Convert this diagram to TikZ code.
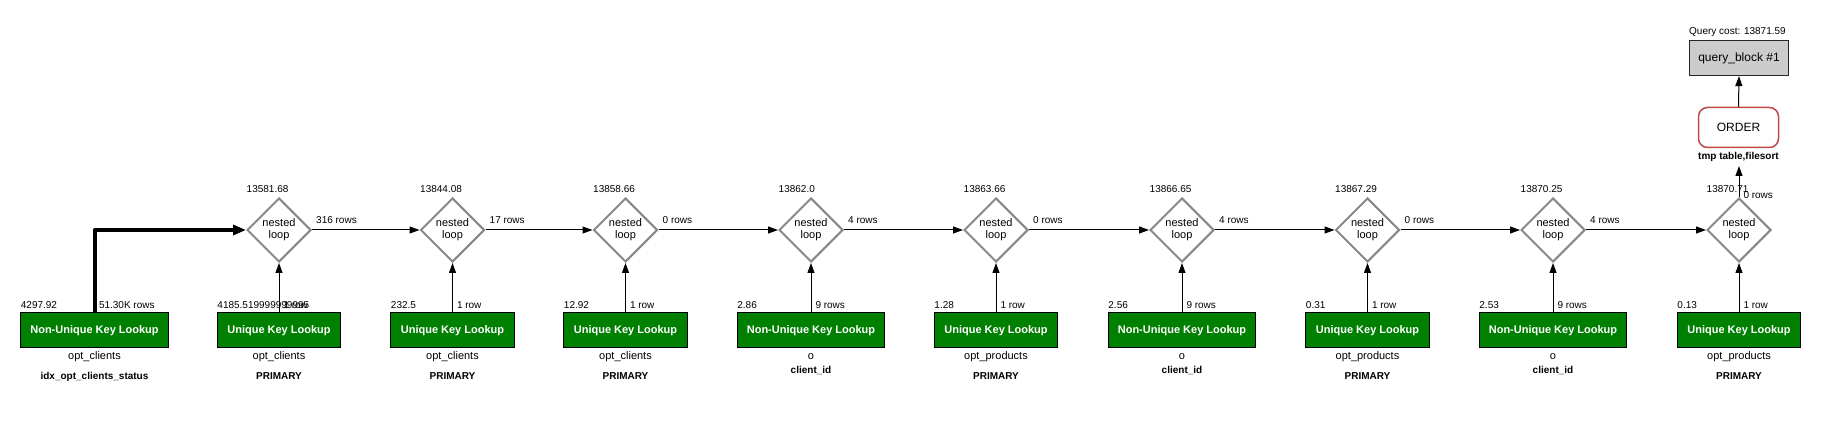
\documentclass[tikz,border=0pt]{standalone}
\usepackage{fontspec}
\setmainfont{Liberation Sans}
\usetikzlibrary{shapes.geometric,arrows.meta}
\definecolor{boxgreen}{HTML}{008000}
\definecolor{loopgray}{HTML}{888888}
\definecolor{ordred}{HTML}{C04848}
\definecolor{qgray}{HTML}{CCCCCC}
\begin{document}
\begin{tikzpicture}[x=1pt,y=-1pt,
  lbl/.style={inner sep=0pt,anchor=base west,font=\fontsize{10}{12}\selectfont},
  clbl/.style={inner sep=0pt,anchor=base,font=\fontsize{11}{12}\selectfont},
  klbl/.style={inner sep=0pt,anchor=base,font=\fontsize{10}{12}\selectfont\bfseries},
  nloop/.style={diamond,draw=loopgray,line width=2pt,fill=white,inner sep=0pt,
    minimum width=64pt,minimum height=64pt,align=center,
    font=\fontsize{11}{12}\selectfont},
  lookup/.style={rectangle,draw=black,line width=1pt,fill=boxgreen,text=white,
    minimum height=35pt,inner sep=0pt,font=\fontsize{11}{13}\selectfont\bfseries},
  nu/.style={lookup,minimum width=147.6pt},
  uk/.style={lookup,minimum width=123.5pt},
  arr/.style={line width=1pt,-{Triangle[length=10pt,width=7pt]}},
  bigarr/.style={line width=4pt,line join=round,-{Triangle[length=13pt,width=10pt]}}
]
\useasboundingbox (0,0) rectangle (1840,435);

% nested loop diamonds
\foreach \x/\c/\r [count=\i] in {279/13581.68/316 rows,452.5/13844.08/17 rows,
  625.5/13858.66/0 rows,811/13862.0/4 rows,996/13863.66/0 rows,1182/13866.65/4 rows,
  1367.5/13867.29/0 rows,1553/13870.25/4 rows}{
  \node[nloop] (d\i) at (\x,230) {nested\\loop};
  \node[lbl] (dc\i) at (\x-32.5,192.6) {\c};
  \node[lbl] (dr\i) at (\x+37,223.6) {\r};
}
\node[nloop] (d9) at (1739,230) {nested\\loop};
\node[lbl] (dc9) at (1706.5,192.6) {13870.71};
\node[lbl] (dr9) at (1743.3,198.6) {0 rows};

% lookup boxes
\foreach \x/\s/\lab/\w/\cost/\rows/\tab/\key/\kb [count=\i] in {
  94.5/nu/Non-Unique Key Lookup/73.8/4297.92/51.30K rows/opt\_clients/idx\_opt\_clients\_status/380,
  279/uk/Unique Key Lookup/61.75/4185.519999999995/1 row/opt\_clients/PRIMARY/380,
  452.5/uk/Unique Key Lookup/61.75/232.5/1 row/opt\_clients/PRIMARY/380,
  625.5/uk/Unique Key Lookup/61.75/12.92/1 row/opt\_clients/PRIMARY/380,
  811/nu/Non-Unique Key Lookup/73.8/2.86/9 rows/o/client\_id/373.6,
  996/uk/Unique Key Lookup/61.75/1.28/1 row/opt\_products/PRIMARY/380,
  1182/nu/Non-Unique Key Lookup/73.8/2.56/9 rows/o/client\_id/373.6,
  1367.5/uk/Unique Key Lookup/61.75/0.31/1 row/opt\_products/PRIMARY/380,
  1553/nu/Non-Unique Key Lookup/73.8/2.53/9 rows/o/client\_id/373.6,
  1739/uk/Unique Key Lookup/61.75/0.13/1 row/opt\_products/PRIMARY/380}{
  \node[\s] (b\i) at (\x,330.5) {\lab};
  \node[lbl] (bc\i) at (\x-\w,308.6) {\cost};
  \node[lbl] (br\i) at (\x+4.3,308.6) {\rows};
  \node[clbl] (bt\i) at (\x,359.5) {\tab};
  \node[klbl] (bk\i) at (\x,\kb) {\key};
}

% top nodes
\node[rectangle,rounded corners=9pt,draw=ordred,line width=1.5pt,fill=white,
  minimum width=80pt,minimum height=40pt,font=\fontsize{12}{14}\selectfont] (ord) at (1738.5,127.5) {ORDER};
\node[klbl] (tmp) at (1738.5,160) {tmp table,filesort};
\node[rectangle,draw=black!85,line width=1.2pt,fill=qgray,minimum width=99pt,
  minimum height=35pt,font=\fontsize{12}{14}\selectfont] (qb) at (1739,58) {query\_block \#1};
\node[lbl] (qc) at (1689,34.2) {Query cost: 13871.59};
\coordinate (t9) at (1739,166);

% connectors
\draw[bigarr] (b1.north) |- (d1.west);
\foreach \a/\b in {2/1,3/2,4/3,5/4,6/5,7/6,8/7,9/8,10/9}
  \draw[arr] (b\a.north) -- (d\b.south);
\foreach \a/\b in {1/2,2/3,3/4,4/5,5/6,6/7,7/8,8/9}
  \draw[arr] (d\a.east) -- (d\b.west);
\draw[arr] (d9.north) -- (t9);
\draw[arr] (ord.north) -- (qb.south);
\end{tikzpicture}
\end{document}
